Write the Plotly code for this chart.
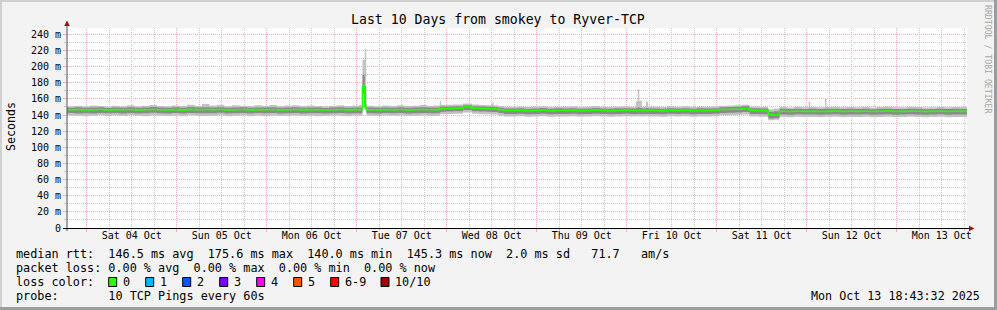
import plotly.graph_objects as go
import pandas as pd

# ---------------- data ----------------
START = "2025-10-03 18:43:32"
END = "2025-10-13 18:43:32"

# hours since START at which each sample (step) begins
hours = [
    0, 2, 4, 6, 8, 10, 12, 14, 16, 18, 20, 22, 24, 26, 28, 30, 32, 34, 36, 38,
    40, 42, 44, 46, 48, 50, 52, 54, 56, 58, 60, 62, 64, 66, 68, 70, 72, 74, 76, 78,
    78.8, 79.4, 79.8,
    80, 82, 84, 86, 88, 90, 92, 94, 96, 98,
    99.4, 99.8, 101, 103, 105.6, 108, 110, 112, 113.4, 113.8, 115, 116.5,
    118, 120, 122, 124, 126, 128, 130, 132, 134, 136, 138, 140, 142, 144, 146, 148, 150,
    151.7, 152.2, 152.6, 153.3, 154.4, 155.0,
    156, 158, 160, 162, 164, 166, 168, 170, 172,
    174, 176, 178, 180,
    182, 184.5, 187, 188.5,
    190, 192, 194, 196, 197.8, 198.2, 200, 202.1, 202.5,
    204, 206, 208, 210, 212, 214, 216, 218, 220, 222, 224, 226, 228, 230, 232, 234, 236, 238,
    240,
]

median_rtt = [
    146.5, 146.8, 146.3, 146.6, 146.9, 146.4, 146.7, 146.5, 146.8, 146.3,
    146.6, 146.9, 146.5, 146.2, 146.7, 146.4, 147.0, 146.6, 146.8, 146.5,
    146.9, 146.3, 146.6, 146.8, 146.4, 146.7, 146.5, 146.9, 146.3, 146.6,
    146.8, 146.4, 146.7, 146.5, 146.2, 146.6, 146.8, 146.4, 146.7, 146.5,
    175.6, 150.0, 147.5,
    146.6, 146.4, 146.7, 146.5, 146.8, 146.3, 146.6, 146.9, 146.5, 146.7,
    147.8, 147.9, 148.1, 148.3, 150.2, 148.3, 148.0, 147.8, 147.7, 147.6, 146.5, 145.6,
    145.5, 145.7, 145.4, 145.6, 145.8, 145.3, 145.6, 145.5, 145.7, 145.4, 145.6, 145.8, 145.5, 145.3, 145.6, 145.7, 145.5,
    145.6, 145.8, 145.6, 145.5, 145.7, 145.5,
    145.6, 145.4, 145.7, 145.5, 145.8, 145.4, 145.6, 145.5, 145.7,
    146.9, 147.1, 147.2, 147.8,
    145.6, 145.4, 140.5, 140.0,
    144.6, 144.4, 144.7, 144.5, 144.6, 144.5, 144.3, 144.6, 144.5,
    144.8, 144.4, 144.6, 144.5, 144.7, 144.3, 144.6, 144.8, 144.4, 144.5, 144.7, 144.6, 144.3, 144.5, 144.7, 144.4, 144.6, 144.5,
    145.3,
]

smoke_low = [
    139.5, 139.0, 138.5, 139.2, 139.8, 138.8, 139.4, 138.9, 139.6, 139.0,
    138.6, 139.5, 139.1, 138.7, 139.3, 138.5, 139.7, 139.0, 138.8, 139.2,
    139.6, 138.4, 139.1, 139.4, 138.6, 139.3, 138.9, 139.5, 138.7, 139.0,
    139.4, 138.8, 139.2, 138.5, 138.9, 139.3, 139.0, 138.6, 139.4, 139.0,
    160.0, 146.0, 140.0,
    139.2, 138.8, 139.3, 139.0, 139.5, 138.7, 139.1, 139.4, 138.9, 139.2,
    140.5, 141.0, 141.3, 141.5, 143.2, 141.6, 141.0, 140.8, 140.6, 140.5, 139.3, 138.2,
    138.0, 138.4, 137.8, 138.2, 138.6, 137.7, 138.3, 138.0, 138.5, 137.9, 138.2, 138.6, 138.1, 137.8, 138.3, 138.4, 138.0,
    138.4, 138.6, 138.3, 138.0, 138.4, 138.1,
    138.2, 137.9, 138.4, 138.1, 138.5, 137.8, 138.3, 138.0, 138.4,
    139.6, 139.8, 140.0, 140.6,
    138.2, 137.8, 133.5, 134.0,
    137.6, 137.3, 137.8, 137.5, 137.6, 137.6, 137.2, 137.7, 137.5,
    137.9, 137.3, 137.6, 137.4, 137.8, 137.2, 137.6, 137.9, 137.4, 137.5, 137.8, 137.6, 137.2, 137.5, 137.8, 137.3, 137.6, 137.5,
    138.0,
]

smoke_high = [
    151.0, 151.5, 150.8, 151.8, 151.2, 150.6, 151.6, 151.0, 152.0, 150.9,
    151.4, 152.3, 151.2, 150.7, 151.9, 151.1, 152.6, 151.5, 153.5, 151.8,
    152.8, 151.0, 152.2, 151.6, 151.3, 152.0, 151.4, 152.4, 151.0, 151.7,
    152.1, 151.2, 151.9, 151.3, 150.8, 151.6, 152.0, 151.1, 151.8, 152.5,
    208.0, 222.0, 153.0,
    151.5, 151.0, 151.8, 151.3, 152.0, 151.2, 151.6, 152.3, 151.4, 151.7,
    157.0, 152.4, 152.6, 152.9, 154.2, 153.0, 152.5, 152.2, 155.5, 152.0, 151.2, 150.4,
    150.2, 150.6, 149.9, 150.4, 151.0, 149.8, 150.5, 150.2, 150.8, 150.0, 150.4, 151.2, 150.3, 149.9, 150.6, 150.7, 150.2,
    157.0, 172.0, 157.5, 150.3, 156.5, 150.4,
    150.4, 150.0, 150.7, 150.3, 150.9, 149.9, 150.5, 150.2, 150.8,
    151.6, 151.9, 152.1, 152.7,
    150.6, 150.2, 147.0, 148.0,
    149.8, 149.4, 150.1, 149.7, 156.8, 149.8, 149.5, 160.0, 149.9,
    150.2, 149.5, 149.9, 149.6, 150.3, 149.4, 149.8, 150.4, 149.6, 149.7, 150.1, 149.9, 149.3, 149.7, 150.2, 149.5, 149.9, 149.8,
    150.3,
]

core_low = [
    142.5, 142.0, 142.3, 142.0, 142.6, 142.1, 142.4, 142.0, 142.5, 141.9,
    142.2, 142.7, 142.3, 141.8, 142.4, 142.0, 142.6, 142.1, 142.3, 142.2,
    142.7, 141.9, 142.2, 142.5, 142.0, 142.4, 142.1, 142.6, 141.8, 142.2,
    142.5, 142.0, 142.3, 142.1, 141.9, 142.2, 142.4, 142.0, 142.3, 142.2,
    166.0, 148.0, 143.0,
    142.3, 142.0, 142.4, 142.1, 142.5, 141.9, 142.2, 142.6, 142.1, 142.3,
    143.5, 144.0, 144.2, 144.5, 146.2, 144.6, 144.2, 144.0, 143.8, 143.7, 142.5, 141.4,
    141.2, 141.5, 141.0, 141.4, 141.7, 140.9, 141.4, 141.2, 141.6, 141.0, 141.3, 141.7, 141.2, 140.9, 141.4, 141.5, 141.2,
    141.4, 141.6, 141.4, 141.2, 141.4, 141.2,
    141.3, 141.0, 141.5, 141.2, 141.6, 140.9, 141.4, 141.2, 141.5,
    142.6, 142.8, 143.0, 143.6,
    141.3, 141.0, 135.8, 136.0,
    140.6, 140.4, 140.8, 140.5, 140.6, 140.6, 140.3, 140.7, 140.5,
    140.9, 140.4, 140.6, 140.5, 140.8, 140.3, 140.6, 140.9, 140.4, 140.5, 140.8, 140.6, 140.3, 140.5, 140.8, 140.4, 140.6, 140.5,
    141.0,
]

core_high = [
    149.0, 149.5, 149.0, 149.3, 149.6, 148.8, 149.4, 149.1, 149.7, 149.0,
    149.2, 149.8, 149.2, 148.9, 149.5, 149.0, 149.9, 149.3, 149.6, 149.2,
    149.7, 148.9, 149.4, 149.5, 149.0, 149.4, 149.2, 149.7, 148.9, 149.3,
    149.5, 149.1, 149.4, 149.2, 148.8, 149.3, 149.5, 149.0, 149.4, 149.3,
    190.0, 175.0, 150.0,
    149.2, 149.0, 149.4, 149.1, 149.5, 148.9, 149.3, 149.6, 149.2, 149.4,
    150.5, 150.4, 150.6, 150.9, 152.2, 151.0, 150.5, 150.3, 150.4, 150.0, 149.0, 148.2,
    148.1, 148.4, 147.9, 148.2, 148.6, 147.8, 148.3, 148.1, 148.5, 147.9, 148.2, 148.6, 148.1, 147.8, 148.3, 148.4, 148.1,
    148.6, 149.5, 148.8, 148.1, 148.7, 148.2,
    148.2, 147.9, 148.4, 148.1, 148.5, 147.8, 148.3, 148.1, 148.4,
    149.7, 149.9, 150.1, 150.7,
    148.3, 148.0, 144.0, 144.5,
    147.6, 147.3, 147.8, 147.5, 148.0, 147.6, 147.3, 148.2, 147.6,
    147.9, 147.3, 147.6, 147.4, 147.8, 147.2, 147.6, 147.9, 147.4, 147.5, 147.8, 147.6, 147.2, 147.5, 147.8, 147.3, 147.6, 147.5,
    148.0,
]

day_starts = ["2025-10-04", "2025-10-05", "2025-10-06", "2025-10-07", "2025-10-08",
              "2025-10-09", "2025-10-10", "2025-10-11", "2025-10-12", "2025-10-13"]
day_labels = ["Sat 04 Oct", "Sun 05 Oct", "Mon 06 Oct", "Tue 07 Oct", "Wed 08 Oct",
              "Thu 09 Oct", "Fri 10 Oct", "Sat 11 Oct", "Sun 12 Oct", "Mon 13 Oct"]

y_ticks = [0, 20, 40, 60, 80, 100, 120, 140, 160, 180, 200, 220, 240]
y_labels = ["0", "20 m", "40 m", "60 m", "80 m", "100 m", "120 m", "140 m",
            "160 m", "180 m", "200 m", "220 m", "240 m"]

title_text = "Last 10 Days from smokey to Ryver-TCP"
stat_lines = [
    "median rtt:  146.5 ms avg  175.6 ms max  140.0 ms min  145.3 ms now  2.0 ms sd   71.7   am/s",
    "packet loss: 0.00 % avg  0.00 % max  0.00 % min  0.00 % now",
    "loss color:",
    "probe:       10 TCP Pings every 60s",
]
stamp_text = "Mon Oct 13 18:43:32 2025"
watermark = "RRDTOOL / TOBI OETIKER"

loss_labels = ["0", "1", "2", "3", "4", "5", "6-9", "10/10"]
loss_colors = ["#26ff00", "#00b8ff", "#0059ff", "#7e00ff", "#ff00ea", "#ff5500", "#ff0000", "#a10000"]

assert len({len(hours), len(median_rtt), len(smoke_low), len(smoke_high), len(core_low), len(core_high)}) == 1

# ---------------- figure ----------------
W, H = 997, 310
PL, PT, PW, PH = 67, 28, 900, 200
MONO = "DejaVu Sans Mono"
MAJOR = "#eab0b0"
MINOR = "#c6c6c6"

def fx(px):
    return (px - PL) / PW

def fy(py):
    return (PT + PH - py) / PH

times = pd.Timestamp(START) + pd.to_timedelta(hours, unit="h")
noons = pd.to_datetime(day_starts) + pd.Timedelta(hours=12)

fig = go.Figure()

def band(lo, hi, color):
    fig.add_trace(go.Scatter(x=times, y=lo, mode="lines", line=dict(width=0, shape="hv"),
                             hoverinfo="skip", showlegend=False))
    fig.add_trace(go.Scatter(x=times, y=hi, mode="lines", line=dict(width=0, shape="hv"),
                             fill="tonexty", fillcolor=color, hoverinfo="skip", showlegend=False))

band(smoke_low, smoke_high, "#c2c2c2")
band(core_low, core_high, "#8a8a8a")
fig.add_trace(go.Scatter(x=times, y=median_rtt, mode="lines",
                         line=dict(color=loss_colors[0], width=1.6, shape="hv"),
                         showlegend=False))
fig.add_trace(go.Scatter(x=[START], y=[None], xaxis="x2", showlegend=False, hoverinfo="skip"))

annotations = []

def ann(text, px, py, size, xanchor="left", color="black", angle=0):
    annotations.append(dict(text=text.replace(" ", "\u00a0"), x=fx(px), y=fy(py), xref="paper", yref="paper",
                            xanchor=xanchor, yanchor="middle", showarrow=False, textangle=angle,
                            borderpad=0, borderwidth=0,
                            font=dict(family=MONO, size=size, color=color)))

ann(title_text, 497.5, 20, 13.2, xanchor="center")
ann("Seconds", 11, 127, 11.6, xanchor="center", angle=-90)
ann(watermark, 988, 59, 8.2, xanchor="center", color="#a8a8a8", angle=90)
for i, line in enumerate(stat_lines):
    ann(line, 15.5, 254.3 + 14 * i, 11.8)
ann(stamp_text, 980.5, 296.3, 11.7, xanchor="right")

shapes = []
sq_left = [108.7, 145.7, 182.7, 219.7, 256.7, 293.7, 330.7, 381.0]
for i, (lab, col) in enumerate(zip(loss_labels, loss_colors)):
    x0 = sq_left[i]
    shapes.append(dict(type="rect", xref="paper", yref="paper", x0=fx(x0), x1=fx(x0 + 8),
                       y0=fy(286.5), y1=fy(277.5), fillcolor=col, line=dict(color="black", width=1)))
    ann(lab, x0 + 14, 282.3, 11.8)

# frame
shapes += [
    dict(type="line", xref="paper", yref="paper", x0=fx(0), x1=fx(W), y0=fy(1), y1=fy(1),
         line=dict(color="#d0d0d0", width=2)),
    dict(type="line", xref="paper", yref="paper", x0=fx(1), x1=fx(1), y0=fy(0), y1=fy(H),
         line=dict(color="#d0d0d0", width=2)),
    dict(type="line", xref="paper", yref="paper", x0=fx(0), x1=fx(W), y0=fy(H - 1.5), y1=fy(H - 1.5),
         line=dict(color="#9c9c9c", width=3)),
    dict(type="line", xref="paper", yref="paper", x0=fx(W - 1.5), x1=fx(W - 1.5), y0=fy(0), y1=fy(H),
         line=dict(color="#9c9c9c", width=3)),
]
# axes and arrows
shapes += [
    dict(type="line", xref="paper", yref="paper", x0=fx(67), x1=fx(67), y0=fy(25), y1=fy(231),
         line=dict(color="#505050", width=1)),
    dict(type="line", xref="paper", yref="paper", x0=fx(63), x1=fx(970), y0=fy(228.5), y1=fy(228.5),
         line=dict(color="black", width=1)),
    dict(type="path", xref="paper", yref="paper",
         path=f"M {fx(67)} {fy(20.5)} L {fx(64.2)} {fy(26)} L {fx(69.8)} {fy(26)} Z",
         fillcolor="#a01010", line=dict(width=0)),
    dict(type="path", xref="paper", yref="paper",
         path=f"M {fx(974.5)} {fy(228.5)} L {fx(969)} {fy(225.7)} L {fx(969)} {fy(231.3)} Z",
         fillcolor="#a01010", line=dict(width=0)),
]

tickfont = dict(family=MONO, size=10, color="black")
fig.update_layout(
    width=W, height=H,
    margin=dict(l=PL, r=W - PL - PW, t=PT, b=H - PT - PH, pad=0),
    paper_bgcolor="#f3f3f3", plot_bgcolor="white",
    showlegend=False,
    xaxis=dict(type="date", range=[START, END], tickmode="linear", tick0="2025-10-04", dtick=86400000,
               showticklabels=False, ticks="outside", ticklen=3, tickcolor=MAJOR,
               showgrid=True, gridcolor=MAJOR, griddash="1px,1px", gridwidth=1,
               zeroline=False, showline=False,
               minor=dict(tickmode="linear", tick0="2025-10-04", dtick=21600000, showgrid=True,
                          gridcolor=MINOR, griddash="1px,1px", ticks="outside", ticklen=2, tickcolor=MINOR)),
    xaxis2=dict(type="date", range=[START, END], overlaying="x", anchor="y", side="bottom",
                tickmode="array", tickvals=list(noons), ticktext=day_labels, ticks="",
                showgrid=False, zeroline=False, showline=False, tickfont=tickfont),
    yaxis=dict(range=[0, 247.8], tickmode="array", tickvals=y_ticks, ticktext=y_labels,
               ticks="outside", ticklen=3, tickcolor=MAJOR, tickfont=tickfont,
               showgrid=True, gridcolor=MAJOR, griddash="1px,1px", gridwidth=1,
               zeroline=False, showline=False,
               minor=dict(tickmode="linear", tick0=0, dtick=10, showgrid=True, gridcolor=MINOR,
                          griddash="1px,1px", ticks="outside", ticklen=2, tickcolor=MINOR)),
    annotations=annotations,
    shapes=shapes,
)

fig.write_html("out.html")
